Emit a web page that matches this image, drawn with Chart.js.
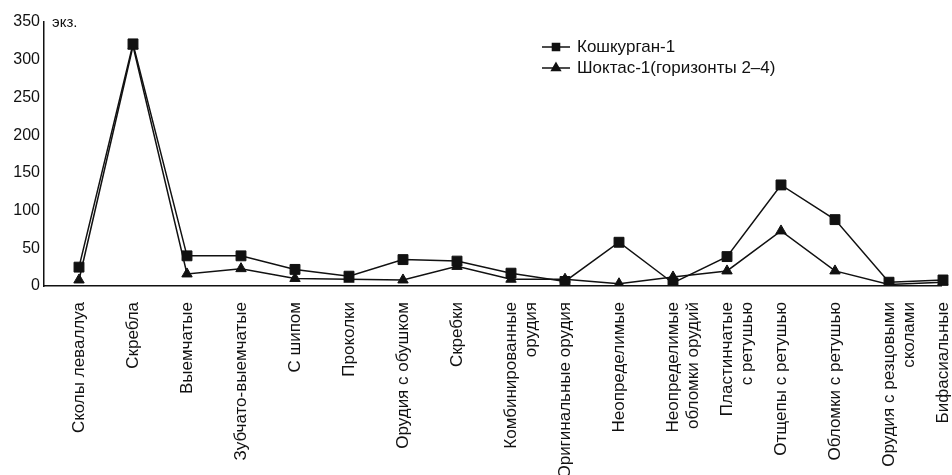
<!DOCTYPE html>
<html>
<head>
<meta charset="utf-8">
<script src="https://cdn.jsdelivr.net/npm/chart.js@4.4.0/dist/chart.umd.min.js"></script>
<style>
  body { margin: 0; background: #fff; overflow: hidden; }
  #wrap { width: 952px; height: 475px; position: relative; }
</style>
</head>
<body>
<div id="wrap"><canvas id="tools"></canvas></div>
<script>
// tool categories (x axis)
var categories = [
    'Сколы леваллуа', 'Скребла', 'Выемчатые', 'Зубчато-выемчатые', 'С шипом',
    'Проколки', 'Орудия с обушком', 'Скребки', ['Комбинированные', 'орудия'],
    'Оригинальные орудия', 'Неопределимые', ['Неопределимые', 'обломки орудий'],
    ['Пластинчатые', 'с ретушью'], 'Отщепы с ретушью', 'Обломки с ретушью',
    ['Орудия с резцовыми', 'сколами'], 'Бифасиальные'
];

// counts, экз.
var koshkurgan = [25, 321, 40, 40, 22, 13, 35, 33, 17, 6, 58, 4, 39, 134, 88, 5, 8];
var shoktas = [8, 318, 16, 23, 10, 9, 8, 26, 9, 9, 3, 12, 20, 73, 20, 2, 5];

var yTicks = [0, 50, 100, 150, 200, 250, 300, 350];
var unitLabel = 'экз.';

var FONT = "'Liberation Sans', Arial, sans-serif";

// first category sits a bit further from the y axis than half a step
var shiftCategories = {
    id: 'shiftCategories',
    afterLayout: function (chart) {
        var x = chart.scales.x;
        var step = 54;
        x._startValue = -(79 - x.left) / step;
        x._valueRange = (x.right - x.left) / step;
    }
};

// legend inside the plot + unit label next to the axis
var extras = {
    id: 'extras',
    afterDraw: function (chart) {
        var ctx = chart.ctx;
        ctx.save();
        ctx.fillStyle = '#111';
        ctx.font = '15px ' + FONT;
        ctx.textBaseline = 'middle';
        ctx.textAlign = 'left';
        ctx.fillText(unitLabel, 52, 23);

        var rows = [47, 68];
        chart.data.datasets.forEach(function (ds, i) {
            var y = rows[i];
            ctx.strokeStyle = '#111';
            ctx.lineWidth = 1.5;
            ctx.beginPath();
            ctx.moveTo(542, y);
            ctx.lineTo(570, y);
            ctx.stroke();
            Chart.helpers.drawPoint(ctx, {
                pointStyle: ds.pointStyle, radius: 5, rotation: 0, borderWidth: 1
            }, 556, y);
            ctx.fillStyle = '#111';
            ctx.font = '17px ' + FONT;
            ctx.fillText(ds.label, 577, y);
        });
        ctx.restore();
    }
};

var ctx = document.getElementById('tools').getContext('2d');

var toolsChart = new Chart(ctx, {
    type: 'line',
    data: {
        labels: categories,
        datasets: [
            {
                label: 'Кошкурган-1',
                data: koshkurgan,
                borderColor: '#111',
                backgroundColor: '#111',
                borderWidth: 1.5,
                pointStyle: 'rect',
                pointRadius: 7,
                pointBorderWidth: 1,
                tension: 0
            },
            {
                label: 'Шоктас-1(горизонты 2–4)',
                data: shoktas,
                borderColor: '#111',
                backgroundColor: '#111',
                borderWidth: 1.5,
                pointStyle: 'triangle',
                pointRadius: 6,
                pointBorderWidth: 1,
                tension: 0
            }
        ]
    },
    options: {
        responsive: true,
        maintainAspectRatio: false,
        animation: false,
        layout: { padding: { top: 22, left: 0, right: 0, bottom: 0 } },
        plugins: {
            legend: { display: false },
            tooltip: { enabled: false }
        },
        scales: {
            x: {
                offset: true,
                grid: { display: false, drawTicks: false, tickLength: 0 },
                border: { display: true, color: '#111', width: 1.5 },
                ticks: {
                    autoSkip: false,
                    minRotation: 90,
                    maxRotation: 90,
                    padding: 16,
                    color: '#111',
                    font: { family: FONT, size: 17 }
                },
                afterFit: function (s) { s.height = 189; }
            },
            y: {
                min: 0,
                max: 350,
                grid: { display: false, drawTicks: false, tickLength: 0 },
                border: { display: true, color: '#111', width: 1.5 },
                afterBuildTicks: function (s) {
                    s.ticks = yTicks.map(function (v) { return { value: v }; });
                },
                ticks: {
                    padding: 4,
                    color: '#111',
                    font: { family: FONT, size: 16 }
                },
                afterFit: function (s) { s.width = 44; }
            }
        }
    },
    plugins: [shiftCategories, extras]
});
</script>
</body>
</html>
